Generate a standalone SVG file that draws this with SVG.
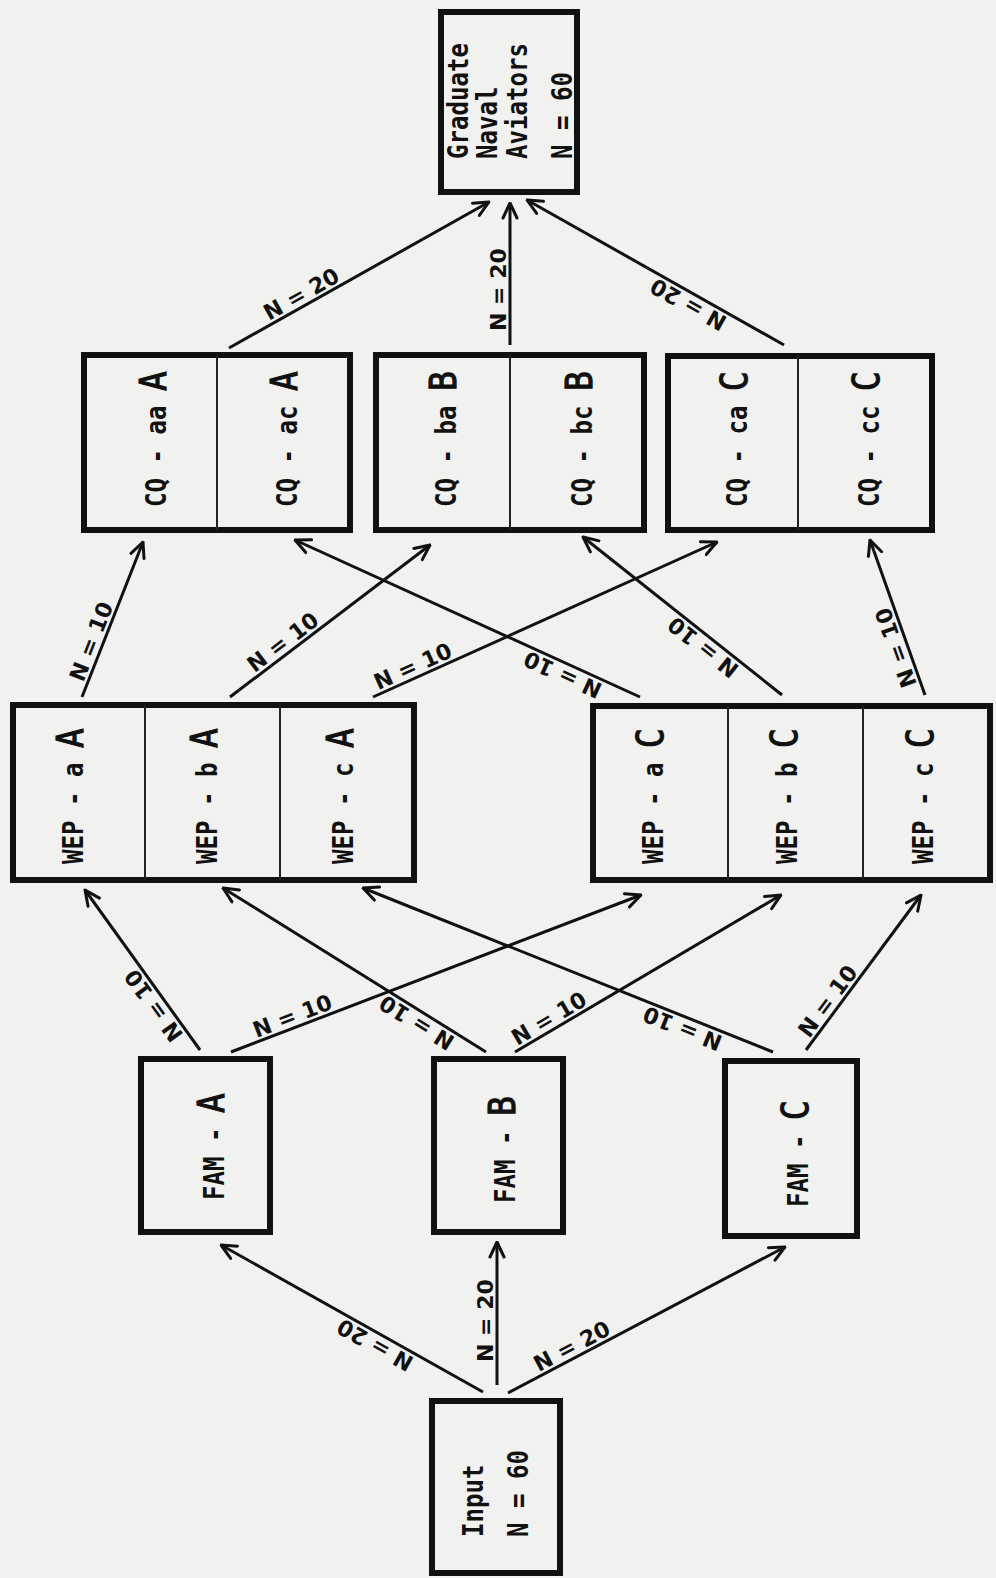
<svg xmlns="http://www.w3.org/2000/svg" width="996" height="1578" viewBox="0 0 996 1578">
<defs>
<marker id="ah" markerUnits="userSpaceOnUse" viewBox="0 0 18 18" refX="16.5" refY="9" markerWidth="18" markerHeight="18" orient="auto">
<path d="M1.5,2 L16.5,9 L1.5,16" fill="none" stroke="#111" stroke-width="3" stroke-linecap="round" stroke-linejoin="round"/>
</marker>
</defs>
<style>
.box{fill:none;stroke:#111;stroke-width:6}
.dv{stroke:#222;stroke-width:2}
.t{font-family:"DejaVu Sans Mono",monospace;font-size:28px;font-weight:bold;fill:#111}
.big{font-size:38px;font-weight:normal;stroke:#111;stroke-width:1.2}
.arr{fill:none;stroke:#111;stroke-width:3;marker-end:url(#ah)}
.lbl{font-family:"DejaVu Sans",sans-serif;font-size:22px;font-weight:bold;fill:#111}
</style>
<rect width="996" height="1578" fill="#f1f1f0"/>

<g id="graduate">
<rect class="box" x="441" y="12" width="136" height="180"/>
<text class="t" transform="translate(468,159) rotate(-90) scale(0.86,1)">Graduate</text>
<text class="t" transform="translate(497,159) rotate(-90) scale(0.86,1)">Naval</text>
<text class="t" transform="translate(527,159) rotate(-90) scale(0.86,1)">Aviators</text>
<text class="t" transform="translate(572,159) rotate(-90) scale(0.86,1)">N = 60</text>
</g>

<g id="cq-a">
<rect class="box" x="84" y="355" width="266" height="175"/>
<line class="dv" x1="217" y1="355" x2="217" y2="530"/>
<text class="t" transform="translate(166,507) rotate(-90) scale(0.86,1)">CQ - aa <tspan class="big">A</tspan></text>
<text class="t" transform="translate(297,507) rotate(-90) scale(0.86,1)">CQ - ac <tspan class="big">A</tspan></text>
</g>
<g id="cq-b">
<rect class="box" x="376" y="355" width="268" height="175"/>
<line class="dv" x1="510" y1="355" x2="510" y2="530"/>
<text class="t" transform="translate(456,507) rotate(-90) scale(0.86,1)">CQ - ba <tspan class="big">B</tspan></text>
<text class="t" transform="translate(592,507) rotate(-90) scale(0.86,1)">CQ - bc <tspan class="big">B</tspan></text>
</g>
<g id="cq-c">
<rect class="box" x="668" y="356" width="264" height="174"/>
<line class="dv" x1="798" y1="356" x2="798" y2="530"/>
<text class="t" transform="translate(747,507) rotate(-90) scale(0.86,1)">CQ - ca <tspan class="big">C</tspan></text>
<text class="t" transform="translate(879,507) rotate(-90) scale(0.86,1)">CQ - cc <tspan class="big">C</tspan></text>
</g>

<g id="wep-a">
<rect class="box" x="13" y="705" width="401" height="175"/>
<line class="dv" x1="145" y1="705" x2="145" y2="880"/>
<line class="dv" x1="280" y1="705" x2="280" y2="880"/>
<text class="t" transform="translate(83,864) rotate(-90) scale(0.86,1)">WEP - a <tspan class="big">A</tspan></text>
<text class="t" transform="translate(217,864) rotate(-90) scale(0.86,1)">WEP - b <tspan class="big">A</tspan></text>
<text class="t" transform="translate(353,864) rotate(-90) scale(0.86,1)">WEP - c <tspan class="big">A</tspan></text>
</g>
<g id="wep-c">
<rect class="box" x="593" y="706" width="397" height="174"/>
<line class="dv" x1="728" y1="706" x2="728" y2="880"/>
<line class="dv" x1="863" y1="706" x2="863" y2="880"/>
<text class="t" transform="translate(663,864) rotate(-90) scale(0.86,1)">WEP - a <tspan class="big">C</tspan></text>
<text class="t" transform="translate(797,864) rotate(-90) scale(0.86,1)">WEP - b <tspan class="big">C</tspan></text>
<text class="t" transform="translate(933,864) rotate(-90) scale(0.86,1)">WEP - c <tspan class="big">C</tspan></text>
</g>

<g id="fam-a">
<rect class="box" x="141" y="1059" width="129" height="173"/>
<text class="t" transform="translate(224,1200) rotate(-90) scale(0.86,1)">FAM - <tspan class="big">A</tspan></text>
</g>
<g id="fam-b">
<rect class="box" x="434" y="1059" width="129" height="173"/>
<text class="t" transform="translate(515,1203) rotate(-90) scale(0.86,1)">FAM - <tspan class="big">B</tspan></text>
</g>
<g id="fam-c">
<rect class="box" x="725" y="1061" width="132" height="175"/>
<text class="t" transform="translate(808,1207) rotate(-90) scale(0.86,1)">FAM - <tspan class="big">C</tspan></text>
</g>

<g id="input">
<rect class="box" x="432" y="1401" width="128" height="172"/>
<text class="t" transform="translate(483,1537) rotate(-90) scale(0.86,1)">Input</text>
<text class="t" transform="translate(528,1537) rotate(-90) scale(0.86,1)">N = 60</text>
</g>

<g id="connectors">
<path id="c1" class="arr" d="M229,348 L489,202"/>
<path id="c2" class="arr" d="M510,345 L510,203"/>
<path id="c3" class="arr" d="M784,345 L527,200"/>
<path id="c4" class="arr" d="M82,697 L143,542"/>
<path id="c5" class="arr" d="M230,697 L430,545"/>
<path id="c6" class="arr" d="M373,697 L717,542"/>
<path id="c7" class="arr" d="M640,697 L295,540"/>
<path id="c8" class="arr" d="M782,695 L583,537"/>
<path id="c9" class="arr" d="M925,695 L870,540"/>
<path id="c10" class="arr" d="M200,1050 L85,890"/>
<path id="c11" class="arr" d="M231,1052 L641,895"/>
<path id="c12" class="arr" d="M486,1052 L223,888"/>
<path id="c13" class="arr" d="M515,1052 L781,895"/>
<path id="c14" class="arr" d="M773,1052 L363,888"/>
<path id="c15" class="arr" d="M806,1050 L921,895"/>
<path id="c16" class="arr" d="M483,1392 L221,1245"/>
<path id="c17" class="arr" d="M497,1385 L497,1242"/>
<path id="c18" class="arr" d="M508,1393 L785,1247"/>
<text class="lbl" dy="-4"><textPath href="#c1" startOffset="30%" text-anchor="middle">N = 20</textPath></text>
<text class="lbl" dy="-4"><textPath href="#c2" startOffset="39%" text-anchor="middle">N = 20</textPath></text>
<text class="lbl" dy="-4"><textPath href="#c3" startOffset="35%" text-anchor="middle">N = 20</textPath></text>
<text class="lbl" dy="-4"><textPath href="#c4" startOffset="33%" text-anchor="middle">N = 10</textPath></text>
<text class="lbl" dy="-4"><textPath href="#c5" startOffset="30%" text-anchor="middle">N = 10</textPath></text>
<text class="lbl" dy="-4"><textPath href="#c6" startOffset="13%" text-anchor="middle">N = 10</textPath></text>
<text class="lbl" dy="-4"><textPath href="#c7" startOffset="21%" text-anchor="middle">N = 10</textPath></text>
<text class="lbl" dy="-4"><textPath href="#c8" startOffset="36%" text-anchor="middle">N = 10</textPath></text>
<text class="lbl" dy="-4"><textPath href="#c9" startOffset="33%" text-anchor="middle">N = 10</textPath></text>
<text class="lbl" dy="-4"><textPath href="#c10" startOffset="32%" text-anchor="middle">N = 10</textPath></text>
<text class="lbl" dy="-4"><textPath href="#c11" startOffset="16%" text-anchor="middle">N = 10</textPath></text>
<text class="lbl" dy="-4"><textPath href="#c12" startOffset="24%" text-anchor="middle">N = 10</textPath></text>
<text class="lbl" dy="-4"><textPath href="#c13" startOffset="15%" text-anchor="middle">N = 10</textPath></text>
<text class="lbl" dy="-4"><textPath href="#c14" startOffset="21%" text-anchor="middle">N = 10</textPath></text>
<text class="lbl" dy="-4"><textPath href="#c15" startOffset="27%" text-anchor="middle">N = 10</textPath></text>
<text class="lbl" dy="-4"><textPath href="#c16" startOffset="39%" text-anchor="middle">N = 20</textPath></text>
<text class="lbl" dy="-4"><textPath href="#c17" startOffset="45%" text-anchor="middle">N = 20</textPath></text>
<text class="lbl" dy="-4"><textPath href="#c18" startOffset="25%" text-anchor="middle">N = 20</textPath></text>
</g>
</svg>
